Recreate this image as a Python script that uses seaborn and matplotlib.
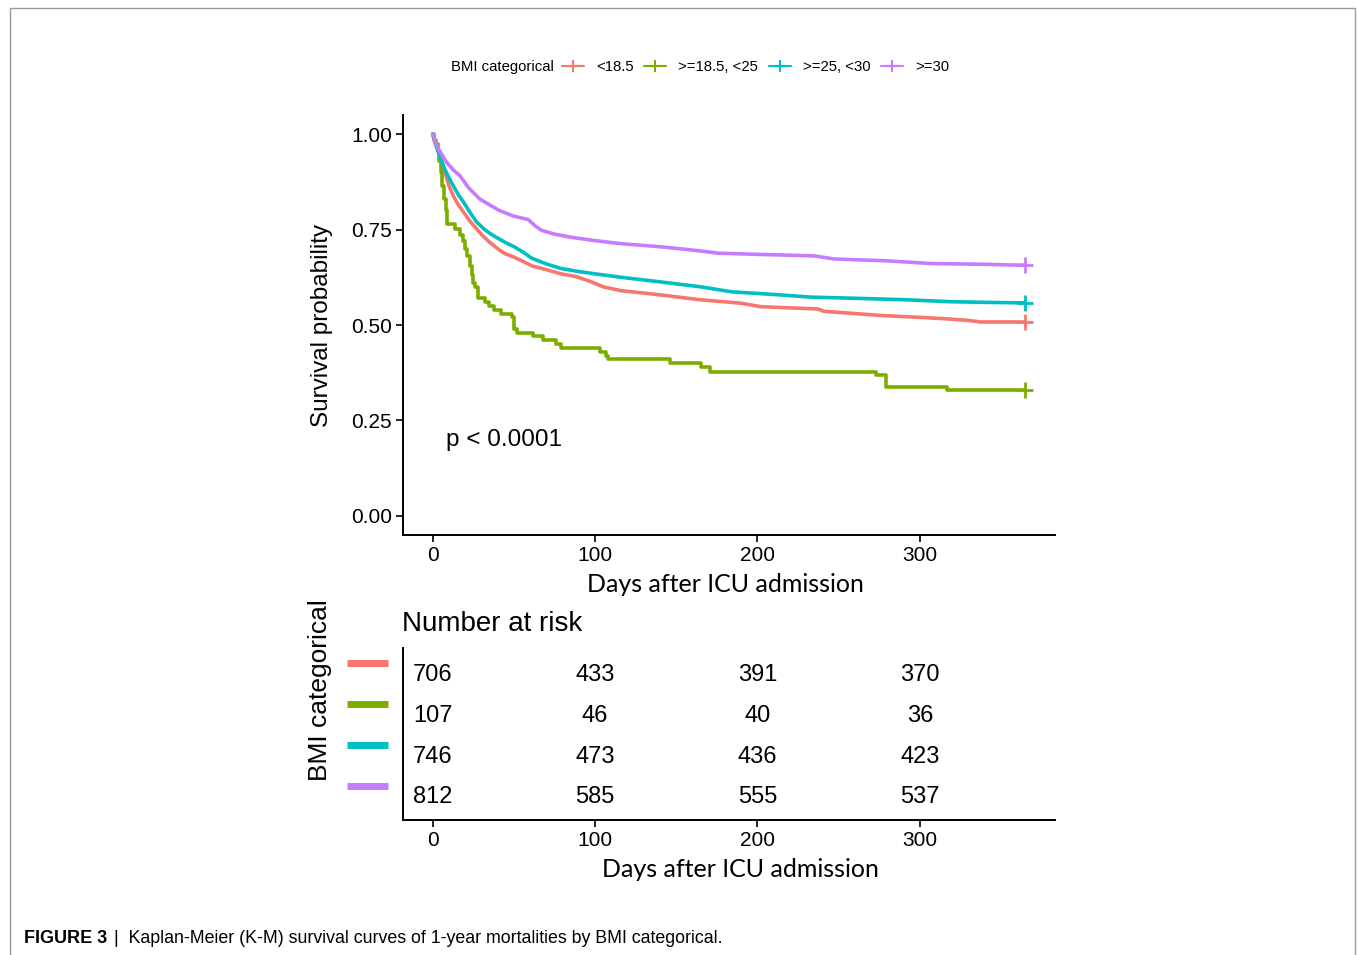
import numpy as np
import pandas as pd
import seaborn as sns
import matplotlib.pyplot as plt
from matplotlib.lines import Line2D
from matplotlib.transforms import blended_transform_factory

# survival curves (days, survival probability)
groups = ["<18.5", ">=18.5, <25", ">=25, <30", ">=30"]
colors = ["#F8766D", "#7CAE00", "#00BFC4", "#C77CFF"]

red_days = [0, 2, 5, 7.6, 10, 12.7, 15, 19, 23, 27, 31, 35, 40, 44, 50, 55, 61, 70, 79, 88, 96,
            105, 116, 140, 165, 190, 202, 237, 241, 260, 276, 300, 317, 330, 337, 365]
red_surv = [1.0, 0.97, 0.935, 0.90, 0.865, 0.839, 0.82, 0.796, 0.772, 0.752, 0.733, 0.717, 0.70,
            0.688, 0.678, 0.668, 0.655, 0.645, 0.634, 0.627, 0.616, 0.60, 0.59, 0.579, 0.566,
            0.557, 0.548, 0.542, 0.536, 0.530, 0.525, 0.520, 0.516, 0.512, 0.508, 0.508]

green_days = [0, 1, 2, 3, 4, 5, 6, 7, 8, 9, 14, 17, 19, 20, 21, 23, 24, 25, 26, 28, 32, 35, 38,
              42, 49, 50, 52, 62, 68, 76, 79, 103, 107, 108, 146, 165, 171, 273, 279, 317, 365]
green_surv = [1.0, 0.985, 0.975, 0.955, 0.93, 0.90, 0.865, 0.83, 0.80, 0.765, 0.752, 0.735, 0.72,
              0.70, 0.68, 0.655, 0.63, 0.61, 0.60, 0.57, 0.56, 0.55, 0.54, 0.53, 0.52, 0.49, 0.48,
              0.47, 0.46, 0.45, 0.44, 0.43, 0.42, 0.41, 0.40, 0.39, 0.377, 0.368, 0.338, 0.33, 0.33]

cyan_days = [0, 3, 6.6, 9.5, 12.7, 16, 19, 23, 27, 32, 37, 44, 50.6, 56, 61, 70, 79, 90, 100,
             116, 140, 165, 184, 210, 233, 260, 292, 319, 345, 365]
cyan_surv = [1.0, 0.96, 0.917, 0.89, 0.865, 0.84, 0.822, 0.795, 0.77, 0.75, 0.735, 0.718, 0.704,
             0.69, 0.675, 0.66, 0.648, 0.64, 0.634, 0.625, 0.613, 0.600, 0.587, 0.58, 0.573,
             0.570, 0.566, 0.561, 0.559, 0.558]

purple_days = [0, 3, 8.6, 13, 16.8, 22, 29, 35, 41, 50, 59, 63, 67, 75, 85, 100, 116, 140, 165,
               176, 200, 235, 247, 280, 307, 340, 358, 365]
purple_surv = [1.0, 0.965, 0.926, 0.905, 0.891, 0.86, 0.83, 0.815, 0.80, 0.785, 0.776, 0.76,
               0.748, 0.738, 0.73, 0.721, 0.713, 0.705, 0.694, 0.688, 0.685, 0.681, 0.673, 0.668,
               0.661, 0.659, 0.657, 0.657]

curves = [(red_days, red_surv), (green_days, green_surv),
          (cyan_days, cyan_surv), (purple_days, purple_surv)]

# number at risk table
risk_times = [0, 100, 200, 300]
risk_red = [706, 433, 391, 370]
risk_green = [107, 46, 40, 36]
risk_cyan = [746, 473, 436, 423]
risk_purple = [812, 585, 555, 537]
risk_rows = [risk_red, risk_green, risk_cyan, risk_purple]

sns.set_theme(style="white")
plt.rcParams["font.family"] = ["Liberation Sans", "DejaVu Sans"]
plt.rcParams["text.color"] = "black"
plt.rcParams["axes.labelcolor"] = "black"

W, H = 1357, 955
fig = plt.figure(figsize=(W / 100, H / 100), dpi=100)

def fx(px):
    return px / W

def fy(py):
    return 1 - py / H

ax = fig.add_axes([fx(403), fy(535), 652 / W, 420 / H])
ax_t = fig.add_axes([fx(403), fy(820), 652 / W, 172 / H])

for (days, surv), color in zip(curves, colors):
    df = pd.DataFrame({"day": days, "surv": surv})
    style = "steps-post" if days is green_days else "default"
    sns.lineplot(data=df, x="day", y="surv", ax=ax, color=color, lw=2.6,
                 estimator=None, sort=False, drawstyle=style)
    ax.plot(days[-1], surv[-1], marker="+", ms=12, mew=2, color=color)

ax.set_xlim(-18.25, 383.25)
ax.set_ylim(-0.05, 1.05)
ax.set_xticks(risk_times)
ax.set_yticks([0, 0.25, 0.5, 0.75, 1.0])
ax.set_yticklabels(["0.00", "0.25", "0.50", "0.75", "1.00"])
ax.text(8, 0.198, "p < 0.0001", fontsize=17.5, ha="left", va="center")
ax.set_xlabel("Days after ICU admission", fontsize=18, family=["Lato", "DejaVu Sans"], va="center")
ax.set_ylabel("Survival probability", fontsize=17.5, va="center")
ax.xaxis.set_label_coords(0.495, -0.119)
ax.yaxis.set_label_coords(-0.124, 0.5)

for a in (ax, ax_t):
    for side in ("top", "right"):
        a.spines[side].set_visible(False)
    for side in ("left", "bottom"):
        a.spines[side].set_color("black")
        a.spines[side].set_linewidth(1.4)
    a.tick_params(axis="both", direction="out", length=5, width=1.2, color="black",
                  labelsize=15, labelcolor="black", pad=3)
    a.tick_params(axis="x", bottom=True)
    a.tick_params(axis="y", left=True)

# risk table
ax_t.set_xlim(-18.25, 383.25)
ax_t.set_ylim(0.4, 4.6)
ax_t.set_xticks(risk_times)
ax_t.set_yticks([])
for i, row in enumerate(risk_rows):
    yrow = 4 - i - 0.05
    for t, n in zip(risk_times, row):
        ax_t.text(t, yrow, str(n), fontsize=17, ha="center", va="center")
trans = blended_transform_factory(ax_t.transAxes, ax_t.transData)
for i, color in enumerate(colors):
    yrow = 4 - i + 0.24
    ax_t.plot([-0.0859, -0.023], [yrow, yrow], transform=trans, color=color, lw=5,
              solid_capstyle="butt", clip_on=False)
ax_t.set_xlabel("Days after ICU admission", fontsize=18, family=["Lato", "DejaVu Sans"], va="center")
ax_t.set_ylabel("BMI categorical", fontsize=19, va="center")
ax_t.xaxis.set_label_coords(0.518, -0.285)
ax_t.yaxis.set_label_coords(-0.127, 0.756)
fig.text(fx(402), fy(624), "Number at risk", fontsize=20, ha="left", va="center")

# top legend
fig.text(fx(451), fy(67), "BMI categorical", fontsize=10.7, ha="left", va="center")
handles = [Line2D([], [], color=c, lw=1.5, marker="+", ms=9, mew=1.5) for c in colors]
fig.legend(handles, groups, loc="center left", bbox_to_anchor=(fx(562), fy(67)), ncol=4,
           frameon=False, fontsize=10.7, handlelength=1.5, handletextpad=0.8,
           columnspacing=0.7, borderpad=0, borderaxespad=0)

# page frame and caption
frame = dict(transform=fig.transFigure, color="#9a9a9a", lw=1)
fig.add_artist(Line2D([fx(10), fx(10)], [0, fy(8)], **frame))
fig.add_artist(Line2D([fx(10), fx(1355)], [fy(8), fy(8)], **frame))
fig.add_artist(Line2D([fx(1355), fx(1355)], [0, fy(8)], **frame))
fig.text(fx(24), fy(938), "FIGURE 3", fontsize=13, weight="bold", ha="left", va="center")
fig.text(fx(114), fy(938), "|  Kaplan-Meier (K-M) survival curves of 1-year mortalities by BMI categorical.",
         fontsize=12.8, ha="left", va="center")

fig.savefig("out.png", dpi=100, facecolor="white")
